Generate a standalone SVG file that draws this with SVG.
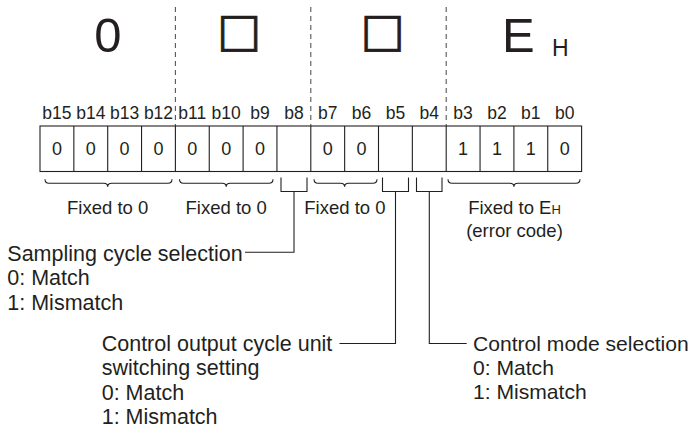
<svg xmlns="http://www.w3.org/2000/svg" width="694" height="430" viewBox="0 0 694 430">
<style>
text{font-family:"Liberation Sans",Arial,sans-serif;fill:#231f20}
.big{font-size:49px}
.sq{font-family:"DejaVu Sans",sans-serif;font-size:46.5px;stroke:#231f20;stroke-width:0.8}
.bit{font-size:17.5px;text-anchor:middle}
.val{font-size:18px;text-anchor:middle}
.fix{font-size:18.5px;text-anchor:middle}
.desc{font-size:21.5px}
.desc2{font-size:21.1px}
.ln{fill:none;stroke:#231f20;stroke-width:1.1}
.dash{fill:none;stroke:#555;stroke-width:1.1;stroke-dasharray:5 4}
</style>
<rect width="694" height="430" fill="#fff"/>
<g id="hex-digits">
<line class="dash" x1="175.4" y1="7" x2="175.4" y2="126"/>
<line class="dash" x1="310.8" y1="7" x2="310.8" y2="126"/>
<line class="dash" x1="446.2" y1="7" x2="446.2" y2="126"/>
<text class="big" x="108" y="51.7" text-anchor="middle">0</text>
<text class="sq" x="239" y="46" text-anchor="middle">□</text>
<text class="sq" x="382.5" y="46" text-anchor="middle">□</text>
<text class="big" x="502" y="51.7">E</text>
<text x="552" y="56" style="font-size:23px">H</text>
</g>
<g id="bit-labels">
<text class="bit" x="56.9" y="119">b15</text>
<text class="bit" x="90.8" y="119">b14</text>
<text class="bit" x="124.6" y="119">b13</text>
<text class="bit" x="158.5" y="119">b12</text>
<text class="bit" x="192.3" y="119">b11</text>
<text class="bit" x="226.2" y="119">b10</text>
<text class="bit" x="260" y="119">b9</text>
<text class="bit" x="293.9" y="119">b8</text>
<text class="bit" x="327.7" y="119">b7</text>
<text class="bit" x="361.6" y="119">b6</text>
<text class="bit" x="395.4" y="119">b5</text>
<text class="bit" x="429.3" y="119">b4</text>
<text class="bit" x="463.1" y="119">b3</text>
<text class="bit" x="497" y="119">b2</text>
<text class="bit" x="530.8" y="119">b1</text>
<text class="bit" x="564.7" y="119">b0</text>
</g>
<g id="register">
<rect class="ln" x="40" y="126" width="541.6" height="45.5"/>
<path class="ln" d="M73.85,126V171.5M107.7,126V171.5M141.55,126V171.5M175.4,126V171.5M209.25,126V171.5M243.1,126V171.5M276.95,126V171.5M310.8,126V171.5M344.65,126V171.5M378.5,126V171.5M412.35,126V171.5M446.2,126V171.5M480.05,126V171.5M513.9,126V171.5M547.75,126V171.5"/>
<text class="val" x="56.9" y="155">0</text>
<text class="val" x="90.8" y="155">0</text>
<text class="val" x="124.6" y="155">0</text>
<text class="val" x="158.5" y="155">0</text>
<text class="val" x="192.3" y="155">0</text>
<text class="val" x="226.2" y="155">0</text>
<text class="val" x="260" y="155">0</text>
<text class="val" x="327.7" y="155">0</text>
<text class="val" x="361.6" y="155">0</text>
<text class="val" x="463.1" y="155">1</text>
<text class="val" x="497" y="155">1</text>
<text class="val" x="530.8" y="155">1</text>
<text class="val" x="564.7" y="155">0</text>
</g>
<g id="connectors">
<path class="ln" d="M45,179.3c0,3 1,4 4,4H103.7c3,0 4,1 4,3.5c0,-2.5 1,-3.5 4,-3.5H168c3,0 4,-1 4,-4"/>
<path class="ln" d="M179.5,179.3c0,3 1,4 4,4H222.2c3,0 4,1 4,3.5c0,-2.5 1,-3.5 4,-3.5H269c3,0 4,-1 4,-4"/>
<path class="ln" d="M314,179.3c0,3 1,4 4,4H340.6c3,0 4,1 4,3.5c0,-2.5 1,-3.5 4,-3.5H373c3,0 4,-1 4,-4"/>
<path class="ln" d="M448,179.3c0,3 1,4 4,4H509.9c3,0 4,1 4,3.5c0,-2.5 1,-3.5 4,-3.5H576c3,0 4,-1 4,-4"/>
<path class="ln" d="M281,177.5V191.5H307V177.5M294,191.5V252.3H245"/>
<path class="ln" d="M382.5,177.5V191.5H408.5V177.5M395.5,191.5V343.5H339.5"/>
<path class="ln" d="M416.5,177.5V191.5H442V177.5M429.3,191.5V343.5H466.7"/>
</g>
<g id="fixed-labels">
<text class="fix" x="107.7" y="214.3">Fixed to 0</text>
<text class="fix" x="226.2" y="214.3">Fixed to 0</text>
<text class="fix" x="344.9" y="214.3">Fixed to 0</text>
<text class="fix" x="514.5" y="213.8">Fixed to E<tspan style="font-size:13px">H</tspan></text>
<text class="fix" x="514.5" y="236.5">(error code)</text>
</g>
<g id="sampling-label">
<text class="desc" x="7.3" y="260.7">Sampling cycle selection</text>
<text class="desc" x="7.3" y="285.2">0: Match</text>
<text class="desc" x="7.3" y="309.7">1: Mismatch</text>
</g>
<g id="output-cycle-label">
<text class="desc" x="101.7" y="351">Control output cycle unit</text>
<text class="desc" x="101.7" y="375.3">switching setting</text>
<text class="desc" x="101.7" y="399.6">0: Match</text>
<text class="desc" x="101.7" y="423.9">1: Mismatch</text>
</g>
<g id="control-mode-label">
<text class="desc2" x="473" y="350.5">Control mode selection</text>
<text class="desc2" x="473" y="374.8">0: Match</text>
<text class="desc2" x="473" y="399.1">1: Mismatch</text>
</g>
</svg>
